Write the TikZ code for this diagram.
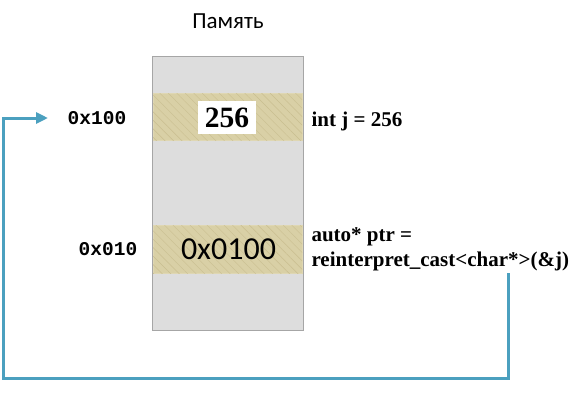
\documentclass[tikz,border=0pt]{standalone}
\usepackage{fontspec}
\setmainfont{Liberation Serif}
\newfontfamily\calibri{Carlito}
\newfontfamily\consolas{Liberation Mono}
\usetikzlibrary{patterns.meta,arrows.meta}
\definecolor{pamfon}{HTML}{DDDDDD}
\definecolor{pamkant}{HTML}{A6A6A6}
\definecolor{yacheyka}{HTML}{D9D0A6}
\definecolor{shtrih}{HTML}{C9BE90}
\definecolor{strelka}{HTML}{4BA0BF}
\begin{document}
\begin{tikzpicture}[
    x=1pt,
    y=-1pt,
    >={Triangle[length=12pt,width=11pt]},
    yach/.style={fill=yacheyka,draw=yacheyka!85!white,line width=0.6pt,
        postaction={pattern={Lines[angle=-45,distance=6pt,line width=0.4pt]},pattern color=shtrih}},
    adres/.style={font=\consolas\bfseries\fontsize{19.5}{22}\selectfont},
    kod/.style={font=\bfseries\fontsize{21}{25}\selectfont,anchor=west,align=left},
    svyaz/.style={strelka,line width=3pt,->}
]
    \useasboundingbox (0,0) rectangle (582,400);
    \node[font=\calibri\fontsize{23}{26}\selectfont] (zag) at (228,21) {Память};

    % блок памяти
    \draw[fill=pamfon,draw=pamkant,line width=1pt] (152,56) rectangle (303,330);
    \path[yach] (153,93) rectangle (302,140);
    \path[yach] (153,225) rectangle (302,273);
    \node[fill=white,minimum width=58pt,minimum height=33pt,inner sep=0pt,
        font=\bfseries\fontsize{29.5}{32}\selectfont] (j) at (227,117.5) {256};
    \node[font=\calibri\fontsize{32}{34}\selectfont] (ptr) at (228.5,249) {0x0100};

    % адреса и подписи
    \node[adres] (a100) at (97,118) {0x100};
    \node[adres] (a010) at (108,249) {0x010};
    \node[kod] (tj) at (308,121) {int j = 256};
    \node[kod] (tptr) at (308,249) {auto* ptr =\\reinterpret\_cast<char*>(\&j)};

    \coordinate (c1) at (508,273);
    \coordinate (c2) at (508,378);
    \coordinate (c3) at (3,378);
    \coordinate (c4) at (3,118);
    \coordinate (c5) at (48,118);
    \draw[svyaz] (c1) -- (c2) -- (c3) -- (c4) -- (c5);
\end{tikzpicture}
\end{document}
